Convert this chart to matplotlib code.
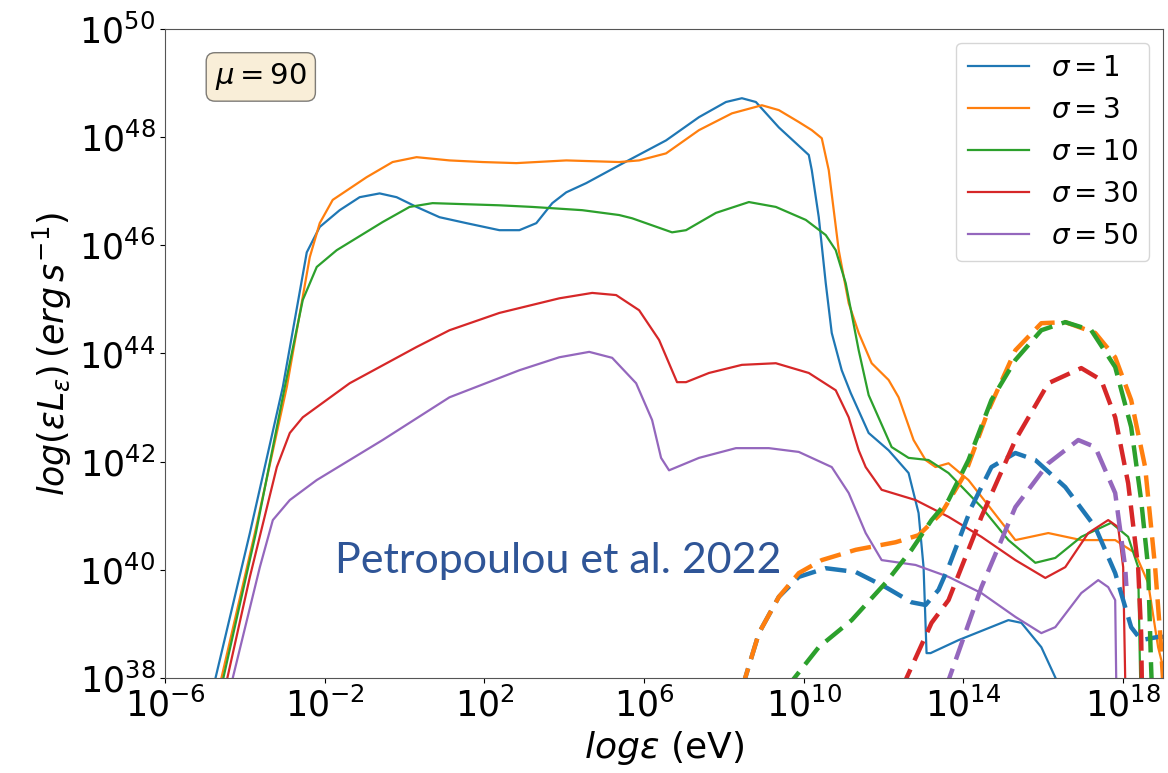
import numpy as np
import matplotlib
matplotlib.use('Agg')
import matplotlib.pyplot as plt

# values, stored as log10(eps) and log10(eps*L_eps)
sigmas = [1, 3, 10, 30, 50]
colors = ['tab:blue', 'tab:orange', 'tab:green', 'tab:red', 'tab:purple']

# solid curves
s1_x = [-4.8, -3.875, -3.05, -2.45, -2.125, -1.625, -1.125, -0.625, -0.2, 0.3, 0.875, 1.55, 2.375, 2.875,
        3.3, 3.7, 4.05, 4.55, 5.375, 6.55, 7.375, 8.05, 8.45, 8.8, 9.375, 10.125, 10.2, 10.375, 10.55, 10.7,
        10.95, 11.175, 11.625, 12.125, 12.625, 12.875, 13.0, 13.075, 13.175, 13.875, 15.125, 15.45, 15.95, 16.4]
s1_y = [37.8, 40.68, 43.38, 45.87, 46.34, 46.65, 46.89, 46.96, 46.89, 46.71, 46.52, 46.41, 46.28, 46.28,
        46.41, 46.78, 46.98, 47.15, 47.48, 47.94, 48.37, 48.65, 48.72, 48.65, 48.18, 47.67, 47.39, 46.52, 45.30, 44.38,
        43.69, 43.27, 42.53, 42.21, 41.79, 41.05, 40.05, 38.46, 38.46, 38.70, 39.07, 39.02, 38.57, 37.85]

s3_x = [-4.65, -3.75, -2.95, -2.375, -2.125, -1.8, -0.95, -0.3, 0.3, 1.125, 1.95, 2.8, 4.05, 5.375, 5.875,
        6.55, 7.375, 8.2, 8.95, 9.375, 9.875, 10.2, 10.45, 10.625, 10.875, 11.125, 11.375, 11.7, 12.125, 12.375,
        12.75, 13.05, 13.3, 13.625, 14.125, 15.3, 16.125, 16.95, 17.8, 18.3, 18.625, 18.875, 19.0]
s3_y = [37.8, 40.68, 43.38, 45.78, 46.41, 46.84, 47.26, 47.54, 47.63, 47.57, 47.54, 47.52, 47.57, 47.54, 47.57,
        47.70, 48.13, 48.44, 48.59, 48.50, 48.28, 48.13, 47.98, 47.39, 45.91, 44.93, 44.38, 43.82, 43.51, 43.19,
        42.40, 42.03, 41.90, 41.97, 41.66, 40.55, 40.68, 40.55, 40.55, 40.31, 39.76, 38.57, 38.2]

s10_x = [-4.6, -3.725, -3.0, -2.55, -2.2, -1.7, -0.55, 0.125, 0.7, 2.375, 3.2, 4.45, 5.375, 5.7, 6.7, 7.05,
         7.8, 8.625, 9.3, 10.05, 10.55, 10.8, 11.05, 11.375, 11.625, 12.2, 12.625, 13.125, 13.625, 14.45,
         15.125, 15.8, 16.3, 16.95, 17.7, 18.125, 18.375, 18.425, 18.43]
s10_y = [37.8, 40.68, 43.38, 44.99, 45.60, 45.91, 46.43, 46.71, 46.78, 46.74, 46.71, 46.65, 46.56, 46.50, 46.24, 46.28,
         46.60, 46.80, 46.71, 46.47, 46.19, 45.91, 45.30, 44.06, 43.23, 42.27, 42.07, 42.03, 41.79, 41.16,
         40.55, 40.13, 40.22, 40.61, 40.87, 40.61, 40.05, 38.02, 37.8]

s30_x = [-4.5, -3.875, -3.2, -2.875, -2.55, -1.375, 0.3, 1.125, 2.375, 3.875, 4.7, 5.3, 5.875, 6.375, 6.825,
         7.05, 7.625, 8.45, 9.3, 10.125, 10.8, 11.125, 11.375, 11.55, 11.95, 12.8, 13.625, 14.45, 15.3, 16.05,
         16.55, 17.125, 17.625, 17.875, 18.0, 18.05, 18.055]
s30_y = [37.8, 39.87, 41.90, 42.53, 42.82, 43.45, 44.12, 44.43, 44.75, 45.02, 45.12, 45.08, 44.80, 44.25, 43.47,
         43.47, 43.64, 43.79, 43.82, 43.64, 43.32, 42.82, 42.21, 41.90, 41.48, 41.29, 40.98, 40.61, 40.18, 39.85,
         40.05, 40.68, 40.92, 40.79, 40.05, 38.02, 37.8]

s50_x = [-4.37, -3.625, -3.3, -2.875, -2.2, -0.55, 1.125, 2.875, 3.875, 4.625, 5.2, 5.8, 6.2, 6.425, 6.625,
         7.375, 8.3, 9.125, 9.875, 10.7, 11.125, 11.55, 11.95, 12.8, 13.625, 14.45, 15.3, 15.95, 16.3, 16.95,
         17.375, 17.625, 17.8, 17.825, 17.83]
s50_y = [37.8, 40.05, 40.92, 41.29, 41.66, 42.40, 43.19, 43.69, 43.93, 44.03, 43.92, 43.45, 42.77, 42.07, 41.84,
         42.07, 42.25, 42.25, 42.18, 41.90, 41.42, 40.68, 40.18, 40.09, 39.87, 39.57, 39.13, 38.83, 38.94, 39.57,
         39.81, 39.68, 39.44, 38.02, 37.8]

# dashed curves
d1_x = [8.45, 8.875, 9.375, 9.875, 10.55, 11.3, 12.05, 12.7, 13.05, 13.375, 13.625, 14.2, 14.7, 15.3, 15.8,
        16.55, 17.3, 17.8, 18.2, 18.45, 18.875, 19.0]
d1_y = [37.8, 38.83, 39.50, 39.87, 40.03, 39.96, 39.68, 39.40, 39.35, 39.63, 40.05, 41.16, 41.90, 42.16, 42.03,
        41.53, 40.79, 39.94, 38.94, 38.70, 38.76, 38.76]

d3_x = [8.45, 8.875, 9.375, 9.875, 10.45, 11.3, 12.3, 12.875, 13.45, 14.05, 14.625, 15.3, 15.95, 16.55, 17.3,
        17.8, 18.2, 18.55, 18.8, 18.925, 19.0]
d3_y = [37.8, 38.83, 39.50, 39.94, 40.18, 40.37, 40.51, 40.64, 41.05, 41.79, 42.95, 44.06, 44.56, 44.58, 44.38,
        43.93, 43.14, 41.90, 40.05, 38.83, 37.96]

d10_x = [9.55, 10.375, 11.2, 12.05, 12.7, 13.2, 13.625, 14.125, 14.7, 15.3, 15.95, 16.55, 17.2, 17.8, 18.2,
         18.45, 18.625, 18.7, 18.72]
d10_y = [37.8, 38.57, 39.07, 39.76, 40.37, 40.92, 41.29, 42.03, 43.14, 43.88, 44.43, 44.58, 44.43, 43.75, 42.64,
         41.29, 40.05, 38.20, 37.8]

d30_x = [12.45, 13.2, 13.625, 14.45, 15.3, 16.125, 16.95, 17.45, 17.8, 18.125, 18.375, 18.45, 18.47]
d30_y = [37.8, 39.02, 39.44, 40.98, 42.40, 43.45, 43.73, 43.51, 42.82, 41.60, 40.05, 38.83, 37.8]

d50_x = [13.55, 14.45, 15.3, 16.125, 16.875, 17.3, 17.8, 18.05, 18.08]
d50_y = [37.8, 39.68, 41.16, 41.97, 42.40, 42.27, 41.42, 40.05, 39.7]

solid_x = [s1_x, s3_x, s10_x, s30_x, s50_x]
solid_y = [s1_y, s3_y, s10_y, s30_y, s50_y]
dash_x = [d1_x, d3_x, d10_x, d30_x, d50_x]
dash_y = [d1_y, d3_y, d10_y, d30_y, d50_y]

fig = plt.figure(figsize=(11.68, 7.73), dpi=100)
ax = fig.add_axes([0.1413, 0.1229, 0.8545, 0.8396])

for i in range(len(sigmas)):
    ax.plot(10.0 ** np.array(solid_x[i]), 10.0 ** np.array(solid_y[i]), color=colors[i], lw=1.6,
            label=r'$\sigma = %d$' % sigmas[i])
for i in range(len(sigmas)):
    ax.plot(10.0 ** np.array(dash_x[i]), 10.0 ** np.array(dash_y[i]), color=colors[i], lw=3.2,
            ls=(0, (4.8, 2.2)))

ax.set_xscale('log')
ax.set_yscale('log')
ax.set_xlim(1e-6, 1e19)
ax.set_ylim(1e38, 1e50)
ax.set_xticks([10.0 ** k for k in range(-6, 19, 4)])
ax.set_yticks([10.0 ** k for k in range(38, 51, 2)])
ax.xaxis.set_minor_locator(matplotlib.ticker.NullLocator())
ax.yaxis.set_minor_locator(matplotlib.ticker.NullLocator())
ax.tick_params(labelsize=25)
for sp in ax.spines.values():
    sp.set_color('#555555')

ax.set_xlabel(r'$log\varepsilon$ (eV)', fontsize=26)
ax.set_ylabel(r'$log(\varepsilon L_{\varepsilon})\,(erg\,s^{-1})$', fontsize=25)

ax.legend(loc='upper right', fontsize=20, handlelength=2.2)
ax.text(0.05, 0.95, r'$\mu = 90$', transform=ax.transAxes, fontsize=21, va='top',
        bbox=dict(boxstyle='round', facecolor='wheat', alpha=0.5))

fig.text(0.287, 0.259, 'Petropoulou et al. 2022', color='#2F5597', fontsize=31, family='Lato')

fig.savefig('out.png', dpi=100)
